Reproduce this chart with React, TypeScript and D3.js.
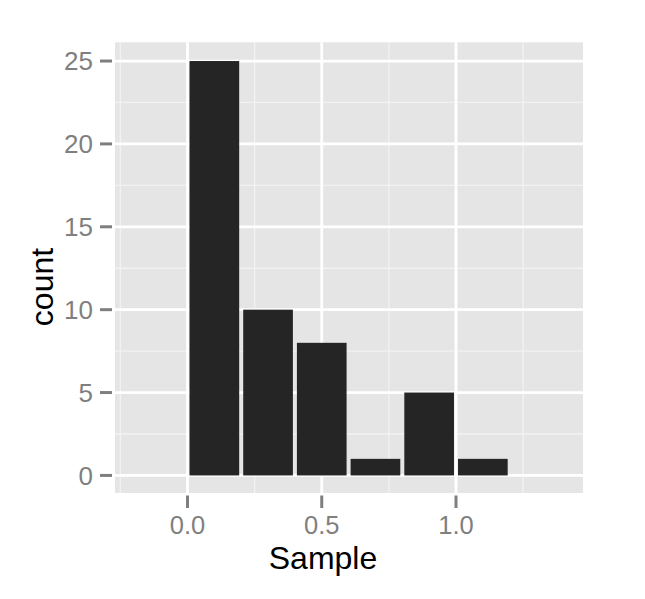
import React from "react";
import * as d3 from "d3";

const binStarts = [0.0, 0.2, 0.4, 0.6, 0.8, 1.0];
const counts = [25, 10, 8, 1, 5, 1];
const binWidth = 0.2;
const xTicks = [0.0, 0.5, 1.0];
const xTickLabels = ["0.0", "0.5", "1.0"];
const xMinor = [-0.25, 0.25, 0.75, 1.25];
const yTicks = [0, 5, 10, 15, 20, 25];
const yMinor = [2.5, 7.5, 12.5, 17.5, 22.5];

const W = 645;
const H = 599;
const P = { left: 115, right: 583, top: 42.3, bottom: 493 };
const FONT = "'Liberation Sans', Arial, Helvetica, sans-serif";

export default function App() {
  const x = d3.scaleLinear().domain([-0.27, 1.473]).range([P.left, P.right]);
  const y = d3.scaleLinear().domain([-1.06, 26.13]).range([P.bottom, P.top]);
  const pad = binWidth * 0.0375;

  return (
    <svg
      width={W}
      height={H}
      style={{ position: "absolute", left: 0, top: 0, background: "#fff" }}
    >
      <rect x={0} y={0} width={W} height={H} fill="#fff" />
      <rect
        x={P.left}
        y={P.top}
        width={P.right - P.left}
        height={P.bottom - P.top}
        fill="#E5E5E5"
      />
      {yMinor.map((v) => (
        <line key={"ym" + v} x1={P.left} x2={P.right} y1={y(v)} y2={y(v)} stroke="#F2F2F2" strokeWidth={1.3} />
      ))}
      {xMinor.map((v) => (
        <line key={"xm" + v} x1={x(v)} x2={x(v)} y1={P.top} y2={P.bottom} stroke="#F2F2F2" strokeWidth={1.3} />
      ))}
      {yTicks.map((v) => (
        <line key={"yg" + v} x1={P.left} x2={P.right} y1={y(v)} y2={y(v)} stroke="#fff" strokeWidth={2.8} />
      ))}
      {xTicks.map((v) => (
        <line key={"xg" + v} x1={x(v)} x2={x(v)} y1={P.top} y2={P.bottom} stroke="#fff" strokeWidth={2.8} />
      ))}
      {binStarts.map((s, i) => (
        <rect
          key={"b" + i}
          x={x(s + pad)}
          y={y(counts[i])}
          width={x(s + binWidth - pad) - x(s + pad)}
          height={y(0) - y(counts[i])}
          fill="#252525"
        />
      ))}
      {yTicks.map((v) => (
        <g key={"yt" + v}>
          <line x1={100} x2={112} y1={y(v)} y2={y(v)} stroke="#7F7F7F" strokeWidth={3} />
          <text
            x={93}
            y={y(v)}
            dy="0.36em"
            textAnchor="end"
            fontFamily={FONT}
            fontSize={26}
            fill="#7F7F7F"
          >
            {v}
          </text>
        </g>
      ))}
      {xTicks.map((v, i) => (
        <g key={"xt" + v}>
          <line x1={x(v)} x2={x(v)} y1={495.5} y2={508} stroke="#7F7F7F" strokeWidth={3} />
          <text
            x={x(v)}
            y={534}
            textAnchor="middle"
            fontFamily={FONT}
            fontSize={25.5}
            fill="#7F7F7F"
          >
            {xTickLabels[i]}
          </text>
        </g>
      ))}
      <text x={323} y={568.5} textAnchor="middle" fontFamily={FONT} fontSize={32} fill="#000">
        Sample
      </text>
      <text
        transform={`translate(53,287) rotate(-90)`}
        textAnchor="middle"
        fontFamily={FONT}
        fontSize={32}
        fill="#000"
      >
        count
      </text>
    </svg>
  );
}
